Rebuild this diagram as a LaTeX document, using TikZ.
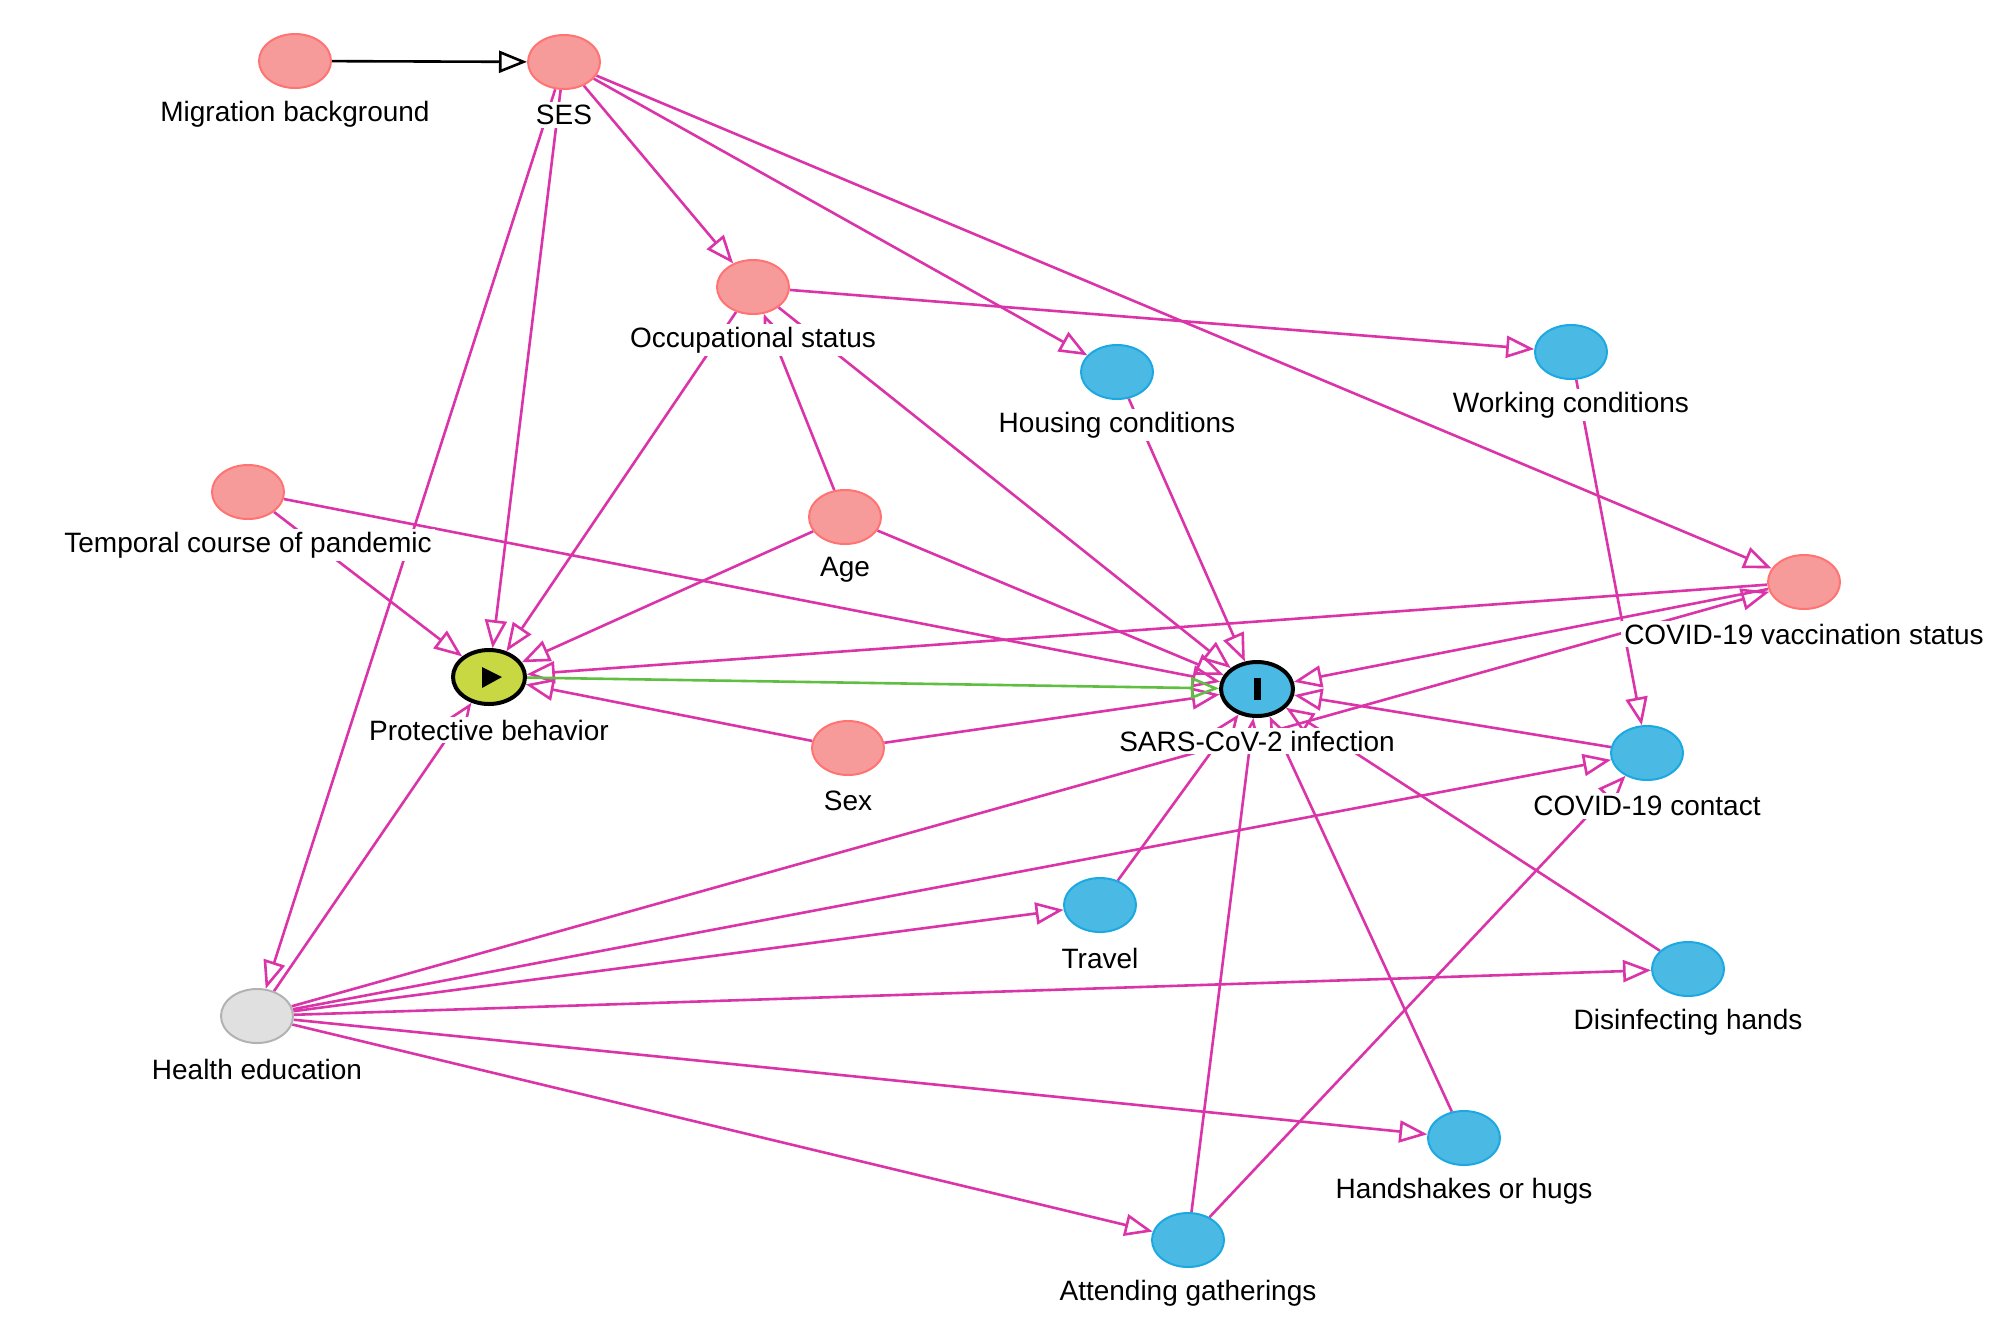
\documentclass[tikz,border=0pt]{standalone}
\usepackage{fontspec}
\setmainfont{Liberation Sans}
\usetikzlibrary{arrows.meta,shapes.geometric}
\pgfdeclarelayer{bglayer}
\pgfdeclarelayer{edgelayer}
\pgfsetlayers{bglayer,edgelayer,main}
\definecolor{ancfill}{RGB}{247,154,154}
\definecolor{ancdraw}{RGB}{255,115,115}
\definecolor{outfill}{RGB}{74,186,229}
\definecolor{outdraw}{RGB}{28,168,224}
\definecolor{expfill}{RGB}{200,216,66}
\definecolor{unfill}{RGB}{224,224,224}
\definecolor{undraw}{RGB}{178,178,178}
\definecolor{edgec}{RGB}{218,52,168}
\definecolor{causalc}{RGB}{96,190,66}
\begin{document}
\begin{tikzpicture}[x=0.5pt,y=-0.5pt,
  var/.style={ellipse, minimum width=36pt, minimum height=27pt, inner sep=0pt, line width=1pt},
  ancnode/.style={var, fill=ancfill, draw=ancdraw},
  outnode/.style={var, fill=outfill, draw=outdraw},
  expnode/.style={var, fill=expfill, draw=black, line width=2pt},
  tgtnode/.style={var, fill=outfill, draw=black, line width=2pt},
  unnode/.style={var, fill=unfill, draw=undraw},
  lab/.style={fill=white, inner sep=1.5pt, font=\fontsize{14}{16}\selectfont},
  e/.style={draw=edgec, line width=1.3pt, -{Triangle[open,length=14pt,width=11pt]}},
  eblack/.style={draw=black, line width=1.3pt, -{Triangle[open,length=14pt,width=11pt]}},
  egreen/.style={draw=causalc, line width=1.3pt, -{Triangle[open,length=14pt,width=11pt]}},
]
\useasboundingbox (0,0) rectangle (2008,1335);
\begin{pgfonlayer}{bglayer}
\fill[white] (0,0) rectangle (2008,1335);
\end{pgfonlayer}

% nodes
\node[ancnode] (mig)  at (295,61)  {};
\node[ancnode] (ses)  at (564,62)  {};
\node[ancnode] (occ)  at (753,287) {};
\node[outnode] (hous) at (1117,372) {};
\node[outnode] (work) at (1571,352) {};
\node[ancnode] (temp) at (248,492) {};
\node[ancnode] (age)  at (845,517) {};
\node[ancnode] (vacc) at (1804,582) {};
\node[expnode] (pb)   at (489,677) {};
\node[tgtnode] (sars) at (1257,689) {};
\node[ancnode] (sex)  at (848,748) {};
\node[outnode] (cont) at (1647,753) {};
\node[outnode] (trav) at (1100,905) {};
\node[outnode] (dis)  at (1688,969) {};
\node[unnode]  (he)   at (257,1016) {};
\node[outnode] (hand) at (1464,1138) {};
\node[outnode] (gath) at (1188,1240) {};

% node marks
\fill[black] (pb.center) ++(-7,-10) -- ++(20,10) -- ++(-20,11) -- cycle;
\fill[black] (sars.center) ++(-3.5,-11) rectangle ++(7,22);

% edges
\begin{pgfonlayer}{edgelayer}
\draw[eblack] (mig) -- (ses);
\draw[e] (ses) -- (occ);
\draw[e] (ses) -- (hous);
\draw[e] (ses) -- (vacc);
\draw[e] (ses) -- (pb);
\draw[e] (ses) -- (he);
\draw[e] (occ) -- (work);
\draw[e] (occ) -- (pb);
\draw[e] (occ) -- (sars);
\draw[e] (age) -- (occ);
\draw[e] (hous) -- (sars);
\draw[e] (work) -- (cont);
\draw[e] (temp) -- (pb);
\draw[e] (temp) -- (sars);
\draw[e] (age) -- (pb);
\draw[e] (age) -- (sars);
\draw[e] (vacc) -- (pb);
\draw[e] (vacc) -- (sars);
\draw[e] (he) -- (vacc);
\draw[e] (sex) -- (pb);
\draw[e] (sex) -- (sars);
\draw[egreen] (pb) -- (sars);
\draw[e] (cont) -- (sars);
\draw[e] (he) -- (cont);
\draw[e] (he) -- (pb);
\draw[e] (he) -- (trav);
\draw[e] (he) -- (dis);
\draw[e] (he) -- (hand);
\draw[e] (he) -- (gath);
\draw[e] (trav) -- (sars);
\draw[e] (dis) -- (sars);
\draw[e] (hand) -- (sars);
\draw[e] (gath) -- (sars);
\draw[e] (gath) -- (cont);
\end{pgfonlayer}

% labels
\node[lab] (mig-l)  at (295,114)  {Migration background};
\node[lab] (ses-l)  at (564,115)  {SES};
\node[lab] (occ-l)  at (753,340)  {Occupational status};
\node[lab] (hous-l) at (1117,425) {Housing conditions};
\node[lab] (work-l) at (1571,405) {Working conditions};
\node[lab] (temp-l) at (248,545)  {Temporal course of pandemic};
\node[lab] (age-l)  at (845,570)  {Age};
\node[lab] (vacc-l) at (1804,634) {COVID-19 vaccination status};
\node[lab] (pb-l)   at (489,730)  {Protective behavior};
\node[lab] (sars-l) at (1257,741) {SARS-CoV-2 infection};
\node[lab] (sex-l)  at (848,801)  {Sex};
\node[lab] (cont-l) at (1647,806) {COVID-19 contact};
\node[lab] (trav-l) at (1100,958) {Travel};
\node[lab] (dis-l)  at (1688,1022) {Disinfecting hands};
\node[lab] (he-l)   at (257,1069) {Health education};
\node[lab] (hand-l) at (1464,1191) {Handshakes or hugs};
\node[lab] (gath-l) at (1188,1293) {Attending gatherings};
\end{tikzpicture}
\end{document}
